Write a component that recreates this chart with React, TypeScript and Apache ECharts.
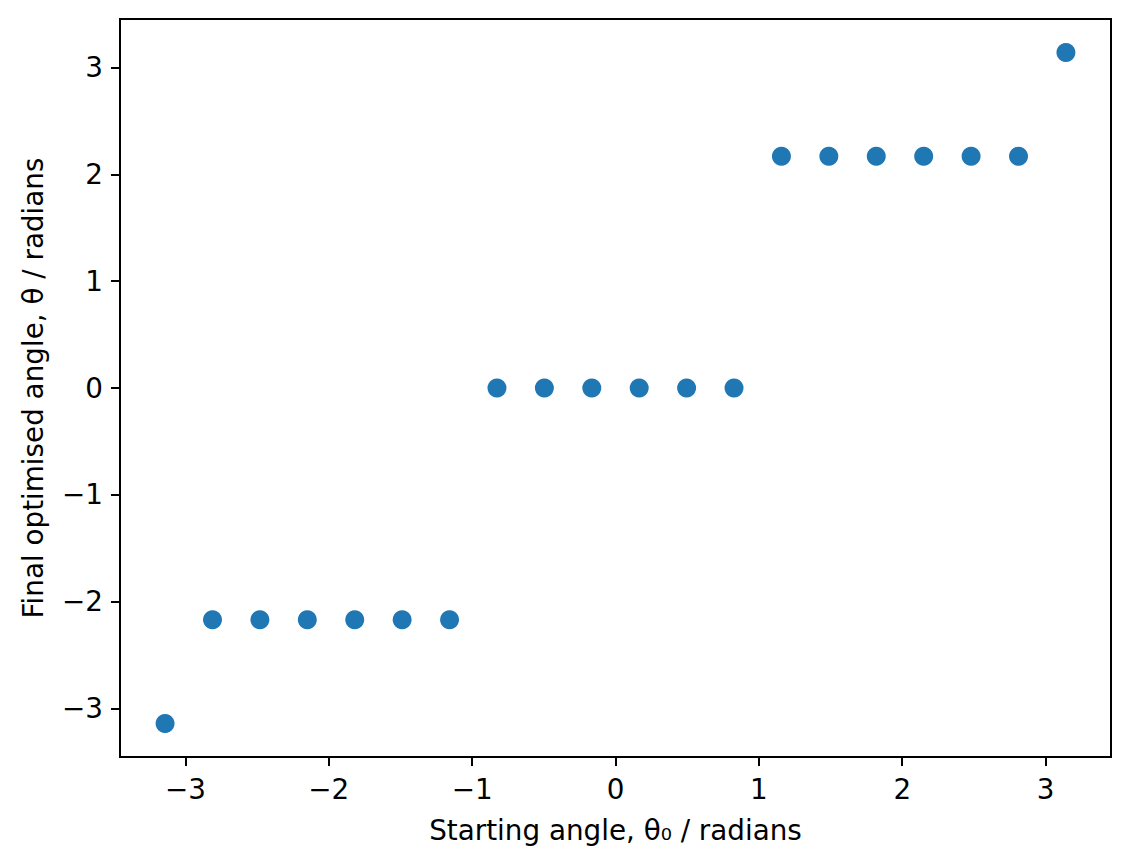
import React, { useEffect, useRef } from "react";
import * as echarts from "echarts";

const startAngles = [
  -3.1416, -2.8109, -2.4802, -2.1495, -1.8188, -1.4881, -1.1574, -0.8267, -0.496, -0.1653,
  0.1653, 0.496, 0.8267, 1.1574, 1.4881, 1.8188, 2.1495, 2.4802, 2.8109, 3.1416,
];
const finalAngles = [
  -3.1416, -2.17, -2.17, -2.17, -2.17, -2.17, -2.17, 0, 0, 0,
  0, 0, 0, 2.17, 2.17, 2.17, 2.17, 2.17, 2.17, 3.1416,
];
const tickValues = [-3, -2, -1, 0, 1, 2, 3];
const xLabel = "Starting angle, θ₀ / radians";
const yLabel = "Final optimised angle, θ / radians";

const fmt = (v: number) => (v < 0 ? "\u2212" + Math.abs(v) : String(v));
const FONT = "DejaVu Sans";
const FS = 27.8;

export default function App() {
  const ref = useRef<HTMLDivElement>(null);
  useEffect(() => {
    if (!ref.current) return;
    const chart = echarts.init(ref.current, undefined, { renderer: "svg" });
    const axisCommon = {
      type: "value" as const,
      min: -3.456,
      max: 3.456,
      splitLine: { show: false },
      axisLine: { show: true, onZero: false, lineStyle: { color: "#000", width: 2 } },
      axisTick: { show: true, inside: false, length: 9, lineStyle: { color: "#000", width: 2 }, customValues: tickValues },
      nameLocation: "middle" as const,
      nameTextStyle: { fontFamily: FONT, fontSize: FS, color: "#000" },
    };
    chart.setOption({
      animation: false,
      backgroundColor: "#fff",
      grid: {
        left: 120, right: 20, top: 19, bottom: 108,
        show: true, borderColor: "#000", borderWidth: 2, backgroundColor: "transparent",
      },
      xAxis: {
        ...axisCommon,
        name: xLabel,
        nameGap: 59,
        axisLabel: {
          customValues: tickValues, formatter: fmt, margin: 18,
          fontFamily: FONT, fontSize: FS, color: "#000",
        },
      },
      yAxis: {
        ...axisCommon,
        name: yLabel,
        nameGap: 73,
        nameRotate: 90,
        axisLabel: {
          customValues: tickValues, formatter: fmt, margin: 17,
          fontFamily: FONT, fontSize: FS, color: "#000",
        },
      },
      series: [
        {
          type: "scatter",
          data: startAngles.map((x, i) => [x, finalAngles[i]]),
          symbolSize: 19,
          itemStyle: { color: "#1f77b4", opacity: 1 },
        },
      ],
    });
    return () => chart.dispose();
  }, []);
  return (
    <div
      ref={ref}
      style={{ position: "fixed", left: 0, top: 0, width: 1131, height: 865 }}
    />
  );
}
